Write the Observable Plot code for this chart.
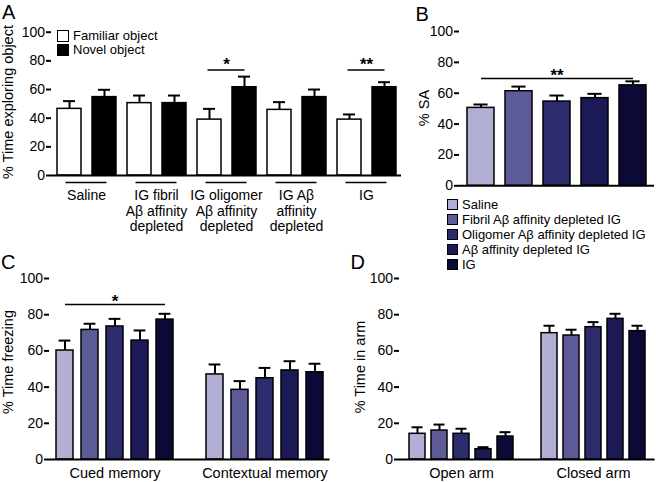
<!DOCTYPE html>
<html><head><meta charset="utf-8">
<script src="https://cdn.jsdelivr.net/npm/d3@7"></script>
<script src="https://cdn.jsdelivr.net/npm/@observablehq/plot@0.6"></script>
<style>
body{margin:0;background:#fff;font-family:"Liberation Sans",Arial,sans-serif;color:#000;}
#root{position:relative;width:656px;height:482px;overflow:hidden;background:#fff;}
.panel{position:absolute;font-size:20px;line-height:1;}
.ytitle{position:absolute;font-size:14.5px;line-height:1;white-space:nowrap;transform:translate(-50%,-50%) rotate(-90deg);}
.leg{position:absolute;font-size:13px;white-space:nowrap;}
.leg div{height:var(--rh);line-height:var(--rh);}
.sw{display:inline-block;box-sizing:border-box;border:1.3px solid #000;vertical-align:middle;margin-right:4px;position:relative;top:-1px;}
</style></head><body><div id="root"></div>
<script>
// ---------- Panel A data ----------
const groupsA = ["Saline", "IG fibril\nAβ affinity\ndepleted", "IG oligomer\nAβ affinity\ndepleted", "IG Aβ\naffinity\ndepleted", "IG"];
const objectsA = ["Familiar object", "Novel object"];
const familiarMean = [46.5, 50.5, 39, 45.8, 39];
const familiarErr = [5.4, 5.3, 7.5, 5.4, 3.6];
const novelMean = [54.7, 50.5, 61.6, 54.7, 61.6];
const novelErr = [5.1, 5.3, 7.4, 5.3, 3.5];
const sigGroupsA = [2, 4];
const sigLevelA = [73.6, 73.6];
const sigLabelA = ["*", "**"];

// ---------- Shared treatments ----------
const treatments = ["Saline", "Fibril Aβ affinity depleted IG", "Oligomer Aβ affinity depleted IG", "Aβ affinity depleted IG", "IG"];
const treatmentColors = ["#b2afd4", "#5d5b97", "#2c2b6b", "#1b1a56", "#0b0a37"];

// ---------- Panel B data ----------
const saMean = [50.5, 61.3, 54.6, 56.8, 65.1];
const saErr = [2.2, 3.0, 3.9, 2.8, 2.6];
const sigLevelB = 69.6;
const sigLabelB = "**";

// ---------- Panel C data ----------
const memoryTests = ["Cued memory", "Contextual memory"];
const cuedMean = [60.2, 71.6, 73.5, 65.7, 77.3];
const cuedErr = [5.5, 3.4, 4.2, 5.6, 3.2];
const contextMean = [47, 38.5, 44.9, 49.2, 48.2];
const contextErr = [5.5, 4.8, 5.7, 5.1, 4.7];
const sigLevelC = 85.6;
const sigLabelC = "*";

// ---------- Panel D data ----------
const armTypes = ["Open arm", "Closed arm"];
const openMean = [14.2, 16, 14.2, 5.7, 12.7];
const openErr = [3.6, 3.3, 2.8, 1.1, 2.4];
const closedMean = [69.8, 68.5, 73.1, 77.7, 70.9];
const closedErr = [4.1, 3.2, 2.8, 2.8, 3.0];

const yTicks = [0, 20, 40, 60, 80, 100];

// ---------- helpers ----------
const root = document.getElementById("root");
function place(node, left, top) {
  const d = document.createElement("div");
  d.style.position = "absolute";
  d.style.left = left + "px";
  d.style.top = top + "px";
  d.appendChild(node);
  root.appendChild(d);
}
function addText(cls, text, left, top) {
  const d = document.createElement("div");
  d.className = cls;
  d.textContent = text;
  d.style.left = left + "px";
  d.style.top = top + "px";
  root.appendChild(d);
}
function legend(labels, colors, left, top, rowH, sw) {
  const box = document.createElement("div");
  box.className = "leg";
  box.style.left = left + "px";
  box.style.top = top + "px";
  box.style.setProperty("--rh", rowH + "px");
  labels.forEach((l, i) => {
    const row = document.createElement("div");
    const s = document.createElement("span");
    s.className = "sw";
    s.style.width = sw + "px";
    s.style.height = sw + "px";
    s.style.background = colors[i];
    row.appendChild(s);
    row.appendChild(document.createTextNode(l));
    box.appendChild(row);
  });
  root.appendChild(box);
}
const baseStyle = {background: "transparent", color: "#000", fontFamily: '"Liberation Sans", Arial, sans-serif', fontSize: "14px", overflow: "visible"};
const axisY = () => Plot.axisY({ticks: yTicks, tickSize: 5, tickPadding: 1.5, strokeWidth: 2, line: true, label: null});

// ---------- Panel A ----------
const dataA = groupsA.flatMap((g, i) => [
  {group: g, object: objectsA[0], mean: familiarMean[i], err: familiarErr[i]},
  {group: g, object: objectsA[1], mean: novelMean[i], err: novelErr[i]}
]);
const sigA = sigGroupsA.map((gi, i) => ({group: groupsA[gi], y: sigLevelA[i], label: sigLabelA[i]}));

const plotA = Plot.plot({
  width: 405, height: 240,
  marginLeft: 50, marginRight: 4, marginTop: 31.7, marginBottom: 65,
  style: baseStyle,
  fx: {domain: groupsA, padding: 0},
  x: {domain: objectsA, paddingInner: 0.316, paddingOuter: 0.158, axis: null},
  y: {domain: [0, 100]},
  color: {domain: objectsA, range: ["#ffffff", "#000000"]},
  marks: [
    Plot.ruleX(dataA, {fx: "group", x: "object", y1: "mean", y2: d => d.mean + d.err, stroke: "#000", strokeWidth: 2}),
    Plot.tickY(dataA, {fx: "group", x: "object", y: d => d.mean + d.err, stroke: "#000", strokeWidth: 2, inset: 6}),
    Plot.barY(dataA, {fx: "group", x: "object", y: "mean", fill: "object", stroke: "#000", strokeWidth: 1.5}),
    Plot.ruleY([0], {stroke: "#000", strokeWidth: 2}),
    Plot.ruleY([0], {stroke: "#000", strokeWidth: 1.5, dy: 7, insetLeft: 14.5, insetRight: 14.5}),
    Plot.ruleY(sigA, {fx: "group", y: "y", stroke: "#000", strokeWidth: 1.5, insetLeft: 16.5, insetRight: 16.5}),
    Plot.text(sigA, {fx: "group", y: "y", text: "label", dy: -5, fontSize: 17, fontWeight: "bold"}),
    axisY(),
    Plot.axisFx({anchor: "bottom", tickSize: 0, tickPadding: 14, label: null, lineHeight: 1.1})
  ]
});
place(plotA, 0, 0);
legend(objectsA, ["#ffffff", "#000000"], 57, 29, 14, 12);

// ---------- Panel B ----------
const dataB = treatments.map((t, i) => ({treatment: t, mean: saMean[i], err: saErr[i]}));
const sigB = [{from: treatments[0], to: treatments[4], mid: treatments[2], y: sigLevelB, label: sigLabelB}];
const plotB = Plot.plot({
  width: 256, height: 190,
  marginLeft: 59, marginRight: 2, marginTop: 31, marginBottom: 4.7,
  style: baseStyle,
  x: {domain: treatments, paddingInner: 0.3, paddingOuter: 0.2, axis: null},
  y: {domain: [0, 100]},
  color: {domain: treatments, range: treatmentColors},
  marks: [
    Plot.ruleX(dataB, {x: "treatment", y1: "mean", y2: d => d.mean + d.err, stroke: "#000", strokeWidth: 2}),
    Plot.tickY(dataB, {x: "treatment", y: d => d.mean + d.err, stroke: "#000", strokeWidth: 2, inset: 6.4}),
    Plot.barY(dataB, {x: "treatment", y: "mean", fill: "treatment", stroke: "#000", strokeWidth: 1.5}),
    Plot.ruleY([0], {stroke: "#000", strokeWidth: 2}),
    Plot.link(sigB, {x1: "from", x2: "to", y1: "y", y2: "y", stroke: "#000", strokeWidth: 1.5}),
    Plot.text(sigB, {x: "mid", y: "y", text: "label", dy: -3, fontSize: 17, fontWeight: "bold"}),
    axisY()
  ]
});
place(plotB, 400, 0);
legend(treatments, treatmentColors, 447, 196.5, 15.2, 11);

// ---------- Panels C & D (grouped bars on one band scale with a spacer slot) ----------
function groupedPlot(groups, means, errs, sig, opts) {
  const keys = [];
  const data = [];
  groups.forEach((g, gi) => {
    if (gi > 0) keys.push("spacer");
    treatments.forEach((t, ti) => {
      const key = g + "|" + t;
      keys.push(key);
      data.push({key, treatment: t, mean: means[gi][ti], err: errs[gi][ti]});
    });
  });
  const midKeys = groups.map(g => g + "|" + treatments[2]);
  const marks = [
    Plot.ruleX(data, {x: "key", y1: "mean", y2: d => d.mean + d.err, stroke: "#000", strokeWidth: 2}),
    Plot.tickY(data, {x: "key", y: d => d.mean + d.err, stroke: "#000", strokeWidth: 2, inset: opts.capInset}),
    Plot.barY(data, {x: "key", y: "mean", fill: "treatment", stroke: "#000", strokeWidth: 1.5}),
    Plot.ruleY([0], {stroke: "#000", strokeWidth: 2}),
    axisY(),
    Plot.axisX({ticks: midKeys, tickFormat: d => d.split("|")[0], tickSize: 0, tickPadding: 8, label: null, fontSize: 14.5})
  ];
  if (sig) {
    const s = [{from: groups[0] + "|" + treatments[0], to: groups[0] + "|" + treatments[4], mid: midKeys[0], y: sig.y, label: sig.label}];
    marks.push(Plot.link(s, {x1: "from", x2: "to", y1: "y", y2: "y", stroke: "#000", strokeWidth: 1.5}));
    marks.push(Plot.text(s, {x: "mid", y: "y", text: "label", dy: -3.5, fontSize: 17, fontWeight: "bold"}));
  }
  return Plot.plot({
    width: opts.width, height: 242,
    marginLeft: opts.marginLeft, marginRight: opts.marginRight, marginTop: 38, marginBottom: 23,
    style: baseStyle,
    x: {domain: keys, paddingInner: opts.pi, paddingOuter: opts.po, axis: null},
    y: {domain: [0, 100]},
    color: {domain: treatments, range: treatmentColors},
    marks
  });
}
const plotC = groupedPlot(memoryTests, [cuedMean, contextMean], [cuedErr, contextErr], {y: sigLevelC, label: sigLabelC},
  {width: 332, marginLeft: 49, marginRight: 2.5, pi: 0.316, po: 0.2, capInset: 2.6});
place(plotC, 0, 240);
const plotD = groupedPlot(armTypes, [openMean, closedMean], [openErr, closedErr], null,
  {width: 326, marginLeft: 69, marginRight: 1.4, pi: 0.28, po: 0.22, capInset: 2.5});
place(plotD, 330, 240);

// ---------- Panel letters and axis titles ----------
addText("panel", "A", 2, 2.4);
addText("panel", "B", 415.5, 4.4);
addText("panel", "C", 1, 252.4);
addText("panel", "D", 350.5, 252.4);
addText("ytitle", "% Time exploring object", 8, 101.5);
addText("ytitle", "% SA", 423.5, 108);
addText("ytitle", "% Time freezing", 8, 362);
addText("ytitle", "% Time in arm", 360, 366.5);
</script></body></html>
